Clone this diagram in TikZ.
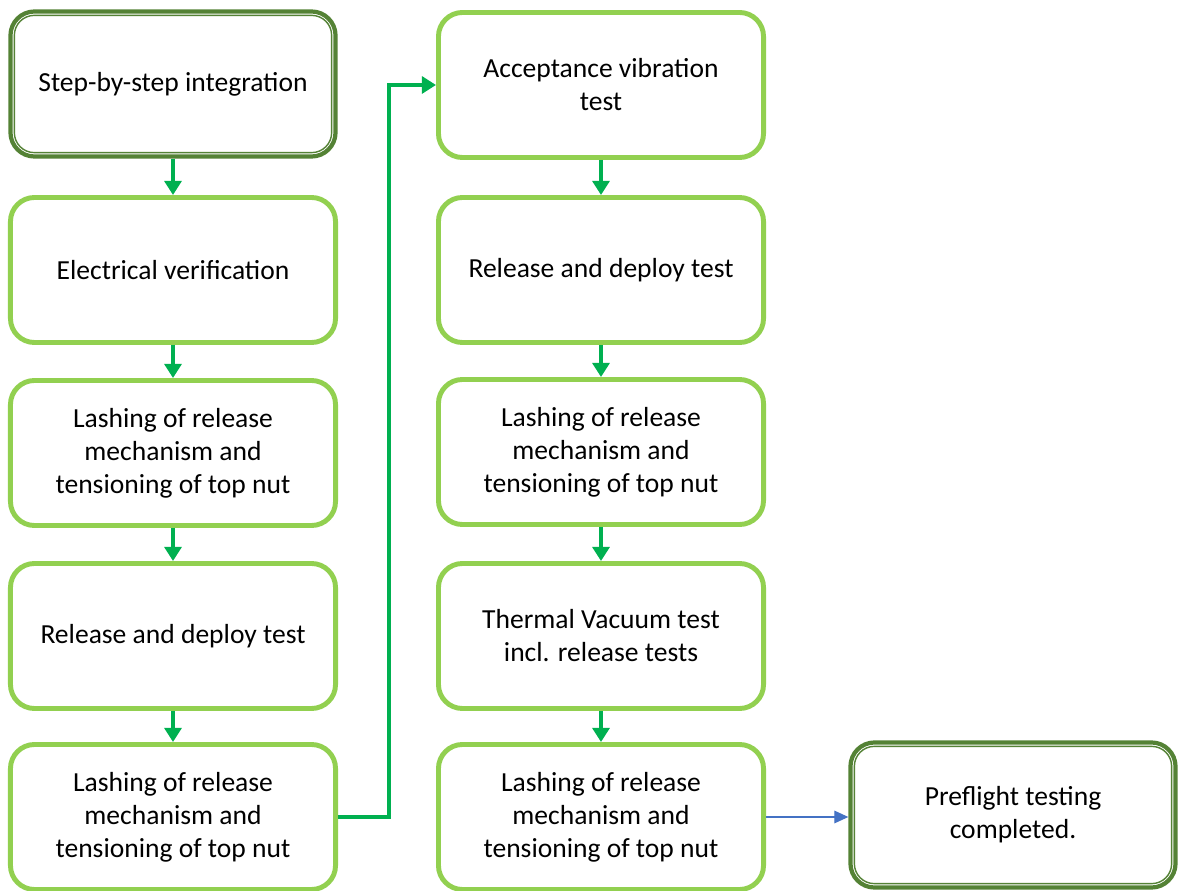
\documentclass[tikz,border=0pt]{standalone}
\usepackage{fontspec}
\setmainfont{Carlito}
\usepackage{xcolor}
\usepackage{tikz}
\usetikzlibrary{shapes,arrows.meta,positioning}

\definecolor{boxgreen}{HTML}{92D050}
\definecolor{termgreen}{HTML}{548235}
\definecolor{linegreen}{HTML}{00B050}
\definecolor{lineblue}{HTML}{4472C4}

\begin{document}
\begin{tikzpicture}[x=0.025cm, y=-0.025cm,
    every node/.style={font=\fontsize{19.6}{23.5}\selectfont, align=center},
    stage/.style={draw=boxgreen, line width=3.5pt, rounded corners=0.6cm, fill=white,
      minimum width=8.125cm, minimum height=3.625cm, inner sep=0pt},
    terminal/.style={stage, draw=termgreen, line width=3pt},
    flow/.style={draw=linegreen, line width=2.4pt, -{Triangle[width=12pt,length=10pt]}},
    handoff/.style={draw=lineblue, line width=0.9pt, -{Triangle[width=9pt,length=10pt]}}]
    \useasboundingbox (0,0) rectangle (1179,891);

    \node[terminal] (start) at (173,84) {Step-by-step integration};
    \draw[termgreen, line width=1pt, rounded corners=0.5cm]
      ([shift={(6,6)}]start.north west) rectangle ([shift={(-6,-6)}]start.south east);
    \node[stage] (elec) at (173,270) {Electrical verification};
    \node[stage] (lashA) at (173,453) {Lashing of release\\mechanism and\\tensioning of top nut};
    \node[stage] (relA) at (173,636) {Release and deploy test};
    \node[stage] (lashB) at (173,817) {Lashing of release\\mechanism and\\tensioning of top nut};

    \node[stage] (vib) at (601,85) {Acceptance vibration\\test};
    \node[stage] (relB) at (601,270) {Release and deploy test};
    \node[stage] (lashC) at (601,452) {Lashing of release\\mechanism and\\tensioning of top nut};
    \node[stage] (tvac) at (601,636) {Thermal Vacuum test\\incl. release tests};
    \node[stage] (lashD) at (601,817) {Lashing of release\\mechanism and\\tensioning of top nut};

    \node[terminal] (done) at (1013,815) {Preflight testing\\completed.};
    \draw[termgreen, line width=1pt, rounded corners=0.5cm]
      ([shift={(6,6)}]done.north west) rectangle ([shift={(-6,-6)}]done.south east);

    \draw[flow] (start) -- (elec);
    \draw[flow] (elec) -- (lashA);
    \draw[flow] (lashA) -- (relA);
    \draw[flow] (relA) -- (lashB);
    \draw[flow] (lashB.east) -- ++(51,0) |- (vib.west);
    \draw[flow] (vib) -- (relB);
    \draw[flow] (relB) -- (lashC);
    \draw[flow] (lashC) -- (tvac);
    \draw[flow] (tvac) -- (lashD);
    \draw[handoff] (lashD.east) -- (done.west |- lashD.east);
\end{tikzpicture}
\end{document}
